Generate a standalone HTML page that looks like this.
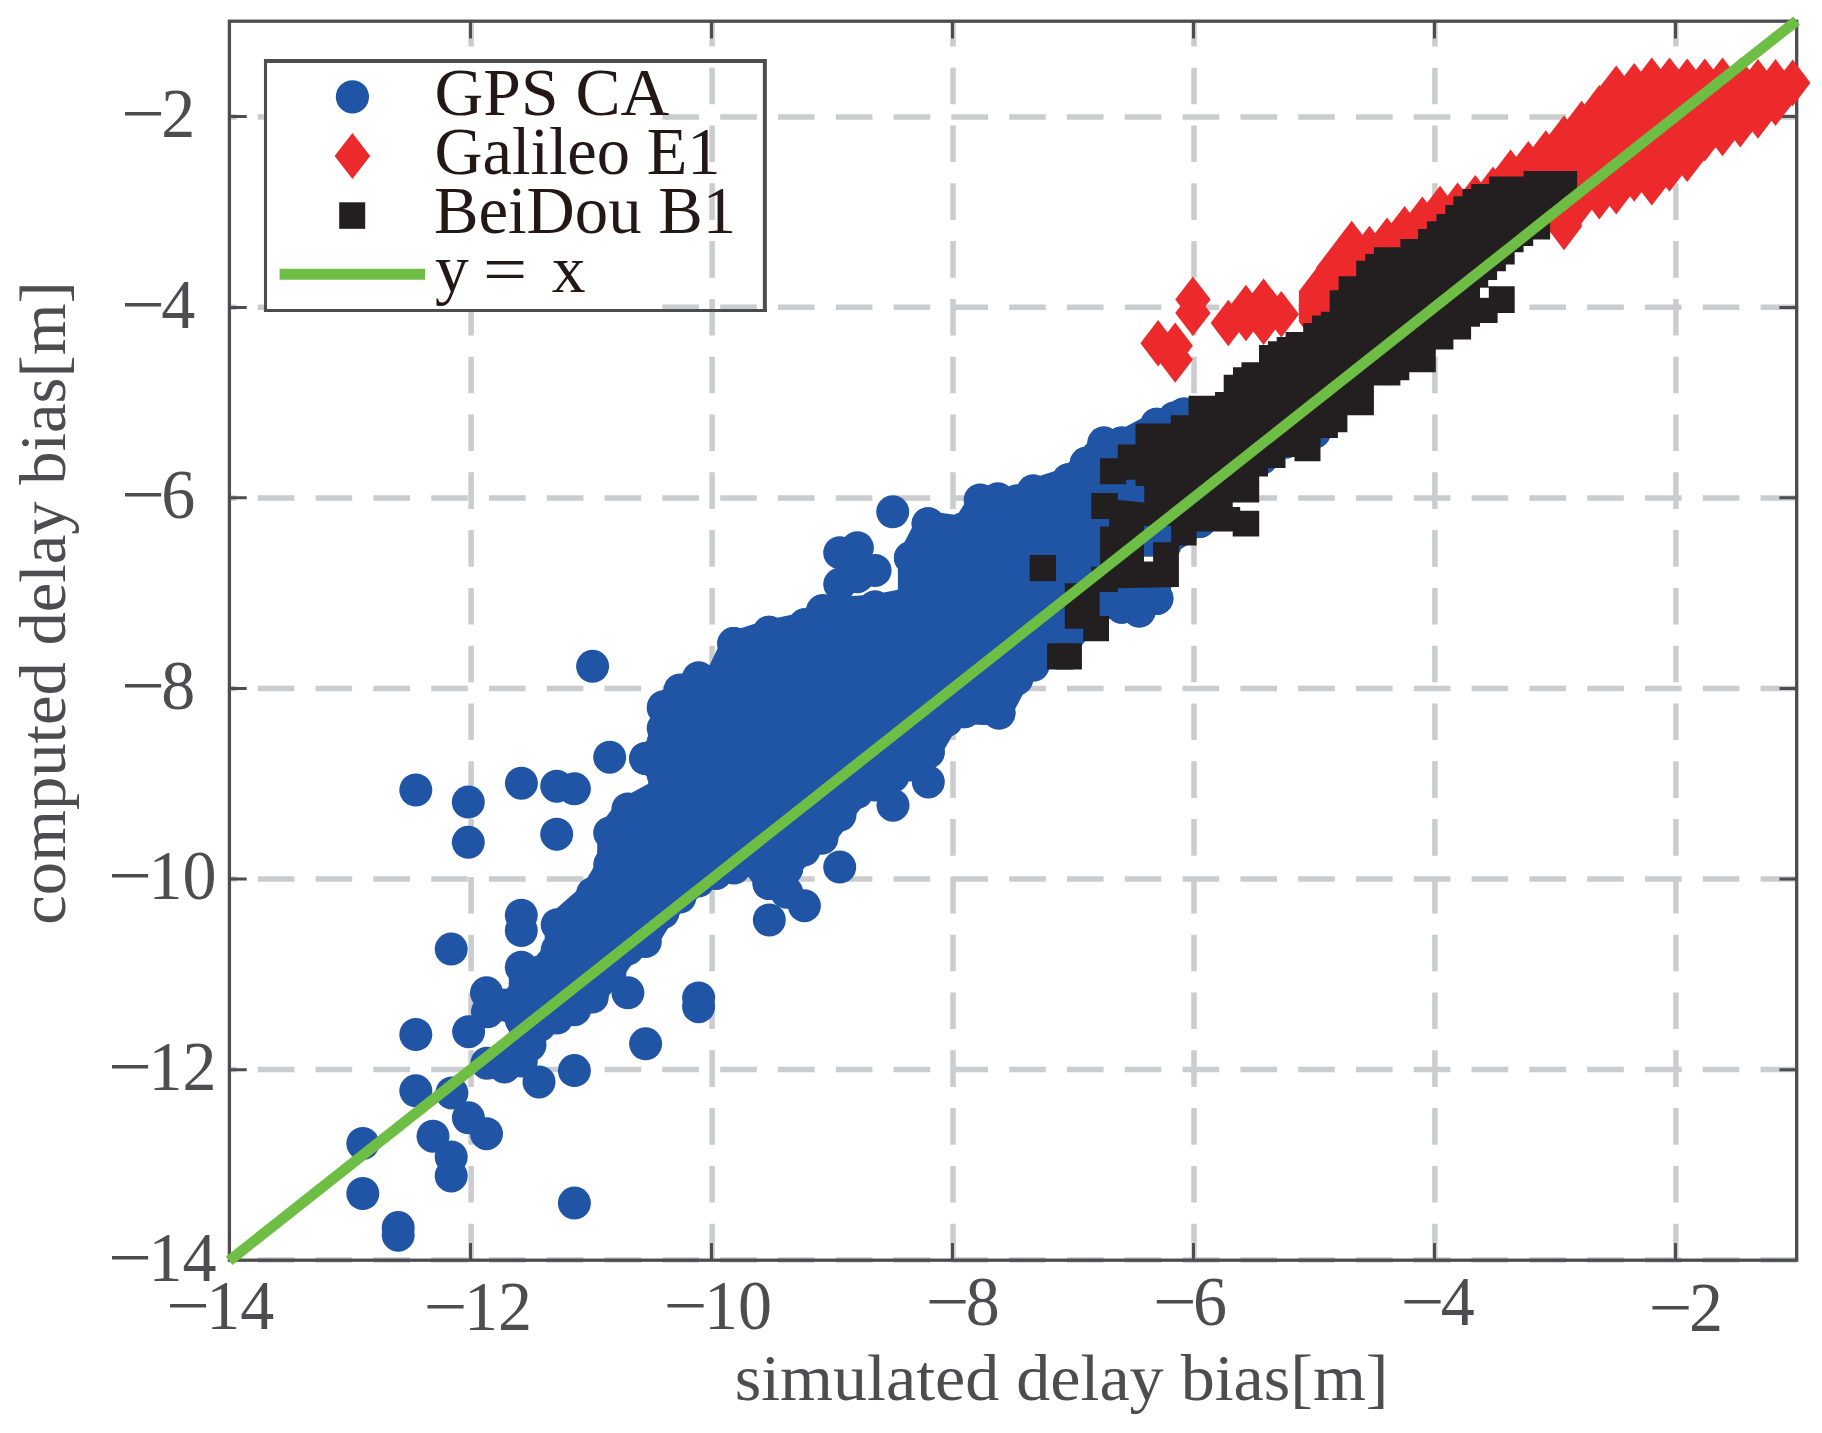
<!DOCTYPE html>
<html lang="en">
<head>
<meta charset="utf-8">
<title>simulated vs computed delay bias</title>
<style>html,body{margin:0;padding:0;background:#fff}body{width:1822px;height:1433px;overflow:hidden}svg{display:block}</style>
</head>
<body>
<svg width="1822" height="1433" viewBox="0 0 1822 1433" role="img" aria-label="Scatter plot of simulated versus computed delay bias">
<rect width="1822" height="1433" fill="#fff"/>
<g stroke="#cbcccd" stroke-width="5.5" fill="none" stroke-dasharray="36.6 21.2">
<path d="M471.1 9.9V1260.2"/>
<path d="M712.1 9.9V1260.2"/>
<path d="M953 9.9V1260.2"/>
<path d="M1194 9.9V1260.2"/>
<path d="M1434.9 9.9V1260.2"/>
<path d="M1675.9 9.9V1260.2"/>
<path d="M200 1259.9H1796.7"/>
<path d="M200 1069.5H1796.7"/>
<path d="M200 879H1796.7"/>
<path d="M200 688.5H1796.7"/>
<path d="M200 498H1796.7"/>
<path d="M200 307.2H1796.7"/>
<path d="M200 117.1H1796.7"/>
</g>
<rect x="0" y="0" width="229.4" height="1433" fill="#fff"/>
<rect x="0" y="0" width="1822" height="21.2" fill="#fff"/>
<rect x="1796.7" y="0" width="40" height="1433" fill="#fff"/>
<rect x="229.4" y="21.2" width="1567.3" height="1239" fill="none" stroke="#4d4d4f" stroke-width="3.3"/>
<path d="M470.5 1260.2v-17.3M470.5 21.2v17.3M711.5 1260.2v-17.3M711.5 21.2v17.3M952.5 1260.2v-17.3M952.5 21.2v17.3M1193.5 1260.2v-17.3M1193.5 21.2v17.3M1434.5 1260.2v-17.3M1434.5 21.2v17.3M1675.5 1260.2v-17.3M1675.5 21.2v17.3M229.4 1069.8h17.3M1796.7 1069.8h-17.3M229.4 879.1h17.3M1796.7 879.1h-17.3M229.4 688.4h17.3M1796.7 688.4h-17.3M229.4 497.8h17.3M1796.7 497.8h-17.3M229.4 307.4h17.3M1796.7 307.4h-17.3M229.4 116.5h17.3M1796.7 116.5h-17.3" stroke="#4d4d4f" stroke-width="3" fill="none"/>
<g fill="#2054a5" stroke="#2054a5" stroke-width="25" stroke-linejoin="round" stroke-linecap="round">
<polygon points="504.5,1066.9 521.3,1048.5 521.3,1020 504,1005 521.3,997 521.3,967.2 539.5,972 557.2,950 557.2,924.7 592.6,893.5 609.7,864.5 609.7,832.9 627.9,809 663.2,790 663.2,775 645.6,758.5 663.2,742 663.2,728.2 663.2,708 680,690 698.6,677.7 716.3,680.2 733.7,643.6 769,632.3 804.9,624.7 822.6,610.8 839.7,609.5 875.1,607 910.4,600 910.4,557.8 928.1,523.7 963.4,528.7 981.1,501 998.8,501 1017,501 1033.2,491.1 1068.6,479.7 1086.2,463.3 1103.9,443.1 1121.6,443.1 1156.9,424.2 1174.6,417.9 1184,414 1250,420 1314.5,432 1285.7,442 1262,458 1236,474 1215,490 1199.8,521.4 1165,545 1156.9,598.4 1139.2,611 1121.6,607.2 1100,605 1071,632.5 1033.2,665.3 1016.7,678.9 999,713 964.2,711.8 946.5,720.6 928.3,752.2 910,765 893,776.1 875,785 856.9,792.5 840,815 822,838.1 804,850 786.7,868.4 769,883.5 751.9,860.8 734,868 716,873.4 698.3,881 680,897 663,912.5 645.3,941.6 627.7,949.1 610,973 592.3,997.1 574.6,1009.7 557,1018 539.5,1025.6 530,1045"/>
</g>
<g fill="#2054a5">
<circle cx="362.8" cy="1143.5" r="16.5"/>
<circle cx="362.8" cy="1193.5" r="16.5"/>
<circle cx="398.2" cy="1227.6" r="16.5"/>
<circle cx="398.2" cy="1235.2" r="16.5"/>
<circle cx="415.8" cy="1034.5" r="16.5"/>
<circle cx="415.8" cy="1090.8" r="16.5"/>
<circle cx="451.9" cy="1093" r="16.5"/>
<circle cx="468.4" cy="1117.8" r="16.5"/>
<circle cx="486.5" cy="1133.7" r="16.5"/>
<circle cx="433" cy="1136.2" r="16.5"/>
<circle cx="451.2" cy="1156.9" r="16.5"/>
<circle cx="451.2" cy="1175.9" r="16.5"/>
<circle cx="574.4" cy="1203.1" r="16.5"/>
<circle cx="574.4" cy="1070.6" r="16.5"/>
<circle cx="539" cy="1081.9" r="16.5"/>
<circle cx="645.6" cy="1043.8" r="16.5"/>
<circle cx="698.6" cy="997.9" r="16.5"/>
<circle cx="698.6" cy="1006.7" r="16.5"/>
<circle cx="627.9" cy="992.8" r="16.5"/>
<circle cx="486.5" cy="992.8" r="16.5"/>
<circle cx="487.5" cy="1011.8" r="16.5"/>
<circle cx="468.6" cy="1031.7" r="16.5"/>
<circle cx="486.9" cy="1063.2" r="16.5"/>
<circle cx="521.3" cy="915.2" r="16.5"/>
<circle cx="521.3" cy="930.6" r="16.5"/>
<circle cx="521.3" cy="1061" r="16.5"/>
<circle cx="592.6" cy="666.3" r="16.5"/>
<circle cx="415.8" cy="790" r="16.5"/>
<circle cx="468.3" cy="802.1" r="16.5"/>
<circle cx="468.3" cy="842.3" r="16.5"/>
<circle cx="521.4" cy="783.2" r="16.5"/>
<circle cx="556.7" cy="786.2" r="16.5"/>
<circle cx="574.4" cy="788.8" r="16.5"/>
<circle cx="556.7" cy="834.2" r="16.5"/>
<circle cx="609.7" cy="757.2" r="16.5"/>
<circle cx="645.6" cy="758.5" r="16.5"/>
<circle cx="451.2" cy="949.1" r="16.5"/>
<circle cx="769.3" cy="920" r="16.5"/>
<circle cx="804.4" cy="905.7" r="16.5"/>
<circle cx="769" cy="883.5" r="16.5"/>
<circle cx="786.7" cy="868.4" r="16.5"/>
<circle cx="839.7" cy="867.1" r="16.5"/>
<circle cx="821.6" cy="838" r="16.5"/>
<circle cx="822" cy="815.3" r="16.5"/>
<circle cx="893" cy="805.2" r="16.5"/>
<circle cx="928.3" cy="781.9" r="16.5"/>
<circle cx="928.3" cy="752.2" r="16.5"/>
<circle cx="999" cy="713" r="16.5"/>
<circle cx="964.2" cy="711.8" r="16.5"/>
<circle cx="1016.7" cy="678.9" r="16.5"/>
<circle cx="769" cy="853.2" r="16.5"/>
<circle cx="786.7" cy="892.3" r="16.5"/>
<circle cx="892.7" cy="511.8" r="16.5"/>
<circle cx="839.7" cy="552.7" r="16.5"/>
<circle cx="857.4" cy="547.7" r="16.5"/>
<circle cx="875.1" cy="570.4" r="16.5"/>
<circle cx="839.7" cy="584.3" r="16.5"/>
<circle cx="857.4" cy="576.7" r="16.5"/>
<circle cx="875.1" cy="607" r="16.5"/>
<circle cx="822.6" cy="610.8" r="16.5"/>
<circle cx="839.7" cy="609.5" r="16.5"/>
<circle cx="804.9" cy="624.7" r="16.5"/>
<circle cx="769" cy="632.3" r="16.5"/>
<circle cx="733.7" cy="643.6" r="16.5"/>
<circle cx="698.3" cy="679" r="16.5"/>
<circle cx="716" cy="681.5" r="16.5"/>
<circle cx="663.5" cy="706.7" r="16.5"/>
<circle cx="928.1" cy="523.7" r="16.5"/>
<circle cx="910.4" cy="557.8" r="16.5"/>
<circle cx="981.1" cy="501" r="16.5"/>
<circle cx="998.8" cy="501" r="16.5"/>
<circle cx="963.4" cy="528.7" r="16.5"/>
<circle cx="1017" cy="501" r="16.5"/>
<circle cx="1103.9" cy="443.1" r="16.5"/>
<circle cx="1121.6" cy="443.1" r="16.5"/>
<circle cx="1086.2" cy="463.3" r="16.5"/>
<circle cx="1068.6" cy="479.7" r="16.5"/>
<circle cx="1033.2" cy="491.1" r="16.5"/>
<circle cx="997.9" cy="498.7" r="16.5"/>
<circle cx="980.2" cy="499.9" r="16.5"/>
<circle cx="1156.9" cy="424.2" r="16.5"/>
<circle cx="1174.6" cy="417.9" r="16.5"/>
<circle cx="1184" cy="414" r="16.5"/>
<circle cx="1156.9" cy="598.4" r="16.5"/>
<circle cx="1139.2" cy="611" r="16.5"/>
<circle cx="1121.6" cy="607.2" r="16.5"/>
<circle cx="1199.8" cy="521.4" r="16.5"/>
<circle cx="1285.7" cy="442" r="16.5"/>
<circle cx="1314.5" cy="432" r="16.5"/>
<circle cx="1154.4" cy="541.6" r="16.5"/>
<circle cx="504.5" cy="1066.9" r="16.5"/>
<circle cx="521.3" cy="1048.5" r="16.5"/>
<circle cx="521.3" cy="1020" r="16.5"/>
<circle cx="504" cy="1005" r="16.5"/>
<circle cx="521.3" cy="997" r="16.5"/>
<circle cx="521.3" cy="967.2" r="16.5"/>
<circle cx="539.5" cy="972" r="16.5"/>
<circle cx="557.2" cy="950" r="16.5"/>
<circle cx="557.2" cy="924.7" r="16.5"/>
<circle cx="592.6" cy="893.5" r="16.5"/>
<circle cx="609.7" cy="864.5" r="16.5"/>
<circle cx="609.7" cy="832.9" r="16.5"/>
<circle cx="627.9" cy="809" r="16.5"/>
<circle cx="663.2" cy="790" r="16.5"/>
<circle cx="663.2" cy="775" r="16.5"/>
<circle cx="645.6" cy="758.5" r="16.5"/>
<circle cx="663.2" cy="742" r="16.5"/>
<circle cx="663.2" cy="728.2" r="16.5"/>
<circle cx="663.2" cy="708" r="16.5"/>
<circle cx="680" cy="690" r="16.5"/>
<circle cx="698.6" cy="677.7" r="16.5"/>
<circle cx="716.3" cy="680.2" r="16.5"/>
<circle cx="733.7" cy="643.6" r="16.5"/>
<circle cx="769" cy="632.3" r="16.5"/>
<circle cx="804.9" cy="624.7" r="16.5"/>
<circle cx="822.6" cy="610.8" r="16.5"/>
<circle cx="839.7" cy="609.5" r="16.5"/>
<circle cx="875.1" cy="607" r="16.5"/>
<circle cx="910.4" cy="600" r="16.5"/>
<circle cx="910.4" cy="557.8" r="16.5"/>
<circle cx="928.1" cy="523.7" r="16.5"/>
<circle cx="963.4" cy="528.7" r="16.5"/>
<circle cx="981.1" cy="501" r="16.5"/>
<circle cx="998.8" cy="501" r="16.5"/>
<circle cx="1017" cy="501" r="16.5"/>
<circle cx="1033.2" cy="491.1" r="16.5"/>
<circle cx="1068.6" cy="479.7" r="16.5"/>
<circle cx="1086.2" cy="463.3" r="16.5"/>
<circle cx="1103.9" cy="443.1" r="16.5"/>
<circle cx="1121.6" cy="443.1" r="16.5"/>
<circle cx="1156.9" cy="424.2" r="16.5"/>
<circle cx="1174.6" cy="417.9" r="16.5"/>
<circle cx="1184" cy="414" r="16.5"/>
<circle cx="1250" cy="420" r="16.5"/>
<circle cx="1314.5" cy="432" r="16.5"/>
<circle cx="1285.7" cy="442" r="16.5"/>
<circle cx="1262" cy="458" r="16.5"/>
<circle cx="1236" cy="474" r="16.5"/>
<circle cx="1215" cy="490" r="16.5"/>
<circle cx="1199.8" cy="521.4" r="16.5"/>
<circle cx="1165" cy="545" r="16.5"/>
<circle cx="1156.9" cy="598.4" r="16.5"/>
<circle cx="1139.2" cy="611" r="16.5"/>
<circle cx="1121.6" cy="607.2" r="16.5"/>
<circle cx="1100" cy="605" r="16.5"/>
<circle cx="1071" cy="632.5" r="16.5"/>
<circle cx="1033.2" cy="665.3" r="16.5"/>
<circle cx="1016.7" cy="678.9" r="16.5"/>
<circle cx="999" cy="713" r="16.5"/>
<circle cx="964.2" cy="711.8" r="16.5"/>
<circle cx="946.5" cy="720.6" r="16.5"/>
<circle cx="928.3" cy="752.2" r="16.5"/>
<circle cx="910" cy="765" r="16.5"/>
<circle cx="893" cy="776.1" r="16.5"/>
<circle cx="875" cy="785" r="16.5"/>
<circle cx="856.9" cy="792.5" r="16.5"/>
<circle cx="840" cy="815" r="16.5"/>
<circle cx="822" cy="838.1" r="16.5"/>
<circle cx="804" cy="850" r="16.5"/>
<circle cx="786.7" cy="868.4" r="16.5"/>
<circle cx="769" cy="883.5" r="16.5"/>
<circle cx="751.9" cy="860.8" r="16.5"/>
<circle cx="734" cy="868" r="16.5"/>
<circle cx="716" cy="873.4" r="16.5"/>
<circle cx="698.3" cy="881" r="16.5"/>
<circle cx="680" cy="897" r="16.5"/>
<circle cx="663" cy="912.5" r="16.5"/>
<circle cx="645.3" cy="941.6" r="16.5"/>
<circle cx="627.7" cy="949.1" r="16.5"/>
<circle cx="610" cy="973" r="16.5"/>
<circle cx="592.3" cy="997.1" r="16.5"/>
<circle cx="574.6" cy="1009.7" r="16.5"/>
<circle cx="557" cy="1018" r="16.5"/>
<circle cx="539.5" cy="1025.6" r="16.5"/>
<circle cx="530" cy="1045" r="16.5"/>
</g>
<clipPath id="rc"><rect x="0" y="0" width="1810" height="1433"/></clipPath>
<g fill="#ec2a2b" clip-path="url(#rc)">
<polygon points="1316.6,268 1334.3,291.2 1334.3,321.8 1316.6,345 1298.9,321.8 1298.9,291.2"/>
<polygon points="1334,244 1351.7,267.2 1351.7,316.8 1334,340 1316.3,316.8 1316.3,267.2"/>
<polygon points="1351.7,220.8 1369.4,244 1369.4,306.8 1351.7,330 1334,306.8 1334,244"/>
<polygon points="1369.4,225.8 1387.1,249 1387.1,296.8 1369.4,320 1351.7,296.8 1351.7,249"/>
<polygon points="1387,217.6 1404.7,240.8 1404.7,286.8 1387,310 1369.3,286.8 1369.3,240.8"/>
<polygon points="1404.6,205.9 1422.3,229.1 1422.3,276.8 1404.6,300 1386.9,276.8 1386.9,229.1"/>
<polygon points="1422.3,196.5 1440,219.7 1440,266.8 1422.3,290 1404.6,266.8 1404.6,219.7"/>
<polygon points="1440,185.7 1457.7,208.9 1457.7,256.8 1440,280 1422.3,256.8 1422.3,208.9"/>
<polygon points="1457.6,182.6 1475.3,205.8 1475.3,246.8 1457.6,270 1439.9,246.8 1439.9,205.8"/>
<polygon points="1475.3,174.9 1493,198.1 1493,236.8 1475.3,260 1457.6,236.8 1457.6,198.1"/>
<polygon points="1493,166.5 1510.7,189.7 1510.7,226.8 1493,250 1475.3,226.8 1475.3,189.7"/>
<polygon points="1510.6,149.5 1528.3,172.7 1528.3,221.8 1510.6,245 1492.9,221.8 1492.9,172.7"/>
<polygon points="1528.3,141 1546,164.2 1546,216.8 1528.3,240 1510.6,216.8 1510.6,164.2"/>
<polygon points="1545.8,130.3 1563.5,153.5 1563.5,211.8 1545.8,235 1528.1,211.8 1528.1,153.5"/>
<polygon points="1564,115.4 1581.7,138.6 1581.7,227 1564,250.2 1546.3,227 1546.3,138.6"/>
<polygon points="1581.6,100.8 1599.3,124 1599.3,200 1581.6,223.2 1563.9,200 1563.9,124"/>
<polygon points="1599.3,85.1 1617,108.3 1617,196.2 1599.3,219.4 1581.6,196.2 1581.6,108.3"/>
<polygon points="1616.2,65.4 1633.9,88.6 1633.9,191.2 1616.2,214.4 1598.5,191.2 1598.5,88.6"/>
<polygon points="1634.2,62.9 1651.9,86.1 1651.9,178.6 1634.2,201.8 1616.5,178.6 1616.5,86.1"/>
<polygon points="1651.8,57.4 1669.5,80.6 1669.5,182.4 1651.8,205.6 1634.1,182.4 1634.1,80.6"/>
<polygon points="1669.5,57.4 1687.2,80.6 1687.2,168.5 1669.5,191.7 1651.8,168.5 1651.8,80.6"/>
<polygon points="1687.2,58.4 1704.9,81.6 1704.9,158.9 1687.2,182.1 1669.5,158.9 1669.5,81.6"/>
<polygon points="1704.8,58.4 1722.5,81.6 1722.5,138.2 1704.8,161.4 1687.1,138.2 1687.1,81.6"/>
<polygon points="1722.5,57.4 1740.2,80.6 1740.2,133.1 1722.5,156.3 1704.8,133.1 1704.8,80.6"/>
<polygon points="1740.2,57.9 1757.9,81.1 1757.9,124.3 1740.2,147.5 1722.5,124.3 1722.5,81.1"/>
<polygon points="1757.9,59.1 1775.6,82.3 1775.6,115.5 1757.9,138.7 1740.2,115.5 1740.2,82.3"/>
<polygon points="1775.5,59.1 1793.2,82.3 1793.2,102.8 1775.5,126 1757.8,102.8 1757.8,82.3"/>
<polygon points="1792.7,59.6 1810.4,82.8 1810.4,83.1 1792.7,106.3 1775,83.1 1775,82.8"/>
<path d="M1158.1 320l17.7 23.2l-17.7 23.2l-17.7 -23.2zM1175.2 322.6l17.7 23.2l-17.7 23.2l-17.7 -23.2zM1175.2 336.4l17.7 23.2l-17.7 23.2l-17.7 -23.2zM1192.9 276.4l17.7 23.2l-17.7 23.2l-17.7 -23.2zM1192.9 289.7l17.7 23.2l-17.7 23.2l-17.7 -23.2zM1228.3 299.8l17.7 23.2l-17.7 23.2l-17.7 -23.2zM1245.9 284.7l17.7 23.2l-17.7 23.2l-17.7 -23.2zM1263.6 278.4l17.7 23.2l-17.7 23.2l-17.7 -23.2zM1263.6 298.6l17.7 23.2l-17.7 23.2l-17.7 -23.2zM1281.3 291l17.7 23.2l-17.7 23.2l-17.7 -23.2zM1263.6 288.8l17.7 23.2l-17.7 23.2l-17.7 -23.2zM1245.9 294.8l17.7 23.2l-17.7 23.2l-17.7 -23.2zM1316.6 297.3l17.7 23.2l-17.7 23.2l-17.7 -23.2z"/>
</g>
<g fill="#231f20">
<polygon points="1064.8,583.2 1091.3,583.2 1091.3,566.8 1100.1,566.8 1100.1,526.4 1109,526.4 1109,518.9 1091.3,518.9 1091.3,493.1 1117.8,493.1 1117.8,499.9 1144.3,502.4 1144.3,486 1135.5,486 1135.5,479.7 1126.1,479.7 1126.1,484.3 1100.1,484.3 1100.1,458.3 1117.8,458.3 1117.8,444.4 1135.5,444.4 1135.5,444.4 1135.5,423.4 1170.8,423.4 1170.8,415.3 1188.5,415.3 1188.5,395.7 1215,395.7 1215,392.1 1223.7,392.1 1223.7,374.8 1233,374.8 1233,367.2 1241.4,367.2 1241.4,362.2 1259,362.2 1259,345 1267.9,345 1267.9,341.2 1276.7,341.2 1276.7,336.9 1285.6,336.9 1285.6,331.9 1303.2,331.9 1303.2,323 1312.1,323 1312.1,315.5 1320.9,315.5 1320.9,311.7 1329.7,311.7 1329.7,290.2 1338.6,290.2 1338.6,276.3 1356.2,276.3 1356.2,260.7 1365.1,260.7 1365.1,254.1 1373.9,254.1 1373.9,247.3 1400.4,247.3 1400.4,239 1418.1,239 1418.1,228.9 1426.9,228.9 1426.9,221.3 1436.5,221.3 1436.5,213.9 1445.3,213.9 1445.3,205.1 1453.4,205.1 1453.4,196.2 1462.5,196.2 1462.5,189.1 1471.1,189.1 1471.1,184.1 1489,184.1 1489,176.5 1523.6,176.5 1523.6,171 1577.1,171 1577.1,197.2 1564,197.2 1564,212 1550.1,212 1550.1,239.6 1533.2,239.6 1533.2,246 1523.6,246 1523.6,252.3 1514.7,252.3 1514.7,264.4 1505.9,264.4 1505.9,271.2 1497.1,271.2 1497.1,280 1488.2,280 1488.2,286.3 1514.7,286.3 1514.7,312.9 1497.6,312.9 1497.6,323 1480,323 1480,326.8 1471.1,326.8 1471.1,339.4 1453.4,339.4 1453.4,349.5 1435.8,349.5 1435.8,372.3 1409.3,372.3 1409.3,380.3 1400.4,380.3 1400.4,385.4 1373.9,385.4 1373.9,415.2 1347.4,415.2 1347.4,432.3 1337.9,432.3 1337.9,438.1 1320.5,438.1 1320.5,461.3 1294.5,461.3 1294.5,457 1285.5,457 1285.5,467.9 1268,467.9 1268,476.4 1259.2,476.4 1259.2,502.4 1232.7,502.4 1232.7,507 1240.2,507 1240.2,510.8 1259.2,510.8 1259.2,536.5 1232.7,536.5 1232.7,531.5 1196.6,531.5 1196.6,545.4 1178.9,545.4 1178.9,587 1117.8,588.3 1117.8,592 1099.6,592 1099.6,616 1109,616 1109,641.3 1083.2,641.3 1083.2,628.7 1064.8,628.7"/>
<rect x="1029.7" y="555" width="26.2" height="26.2"/>
<rect x="1047.1" y="643.3" width="26.2" height="26.2"/>
<rect x="1055.7" y="643.3" width="26.2" height="26.2"/>
</g>
<rect x="1480" y="287.7" width="8.8" height="10.1" fill="#fff"/>
<path d="M1144 526h27.2v16.2h-18.1v14.4h-9.1z" fill="#2054a5"/>
<path d="M1144 556.6h9.1v4.9h-9.1z" fill="#fff"/>
<path d="M229.2 1260.7L1796.6 20.8" stroke="#6ebd45" stroke-width="10.7" fill="none"/>
<rect x="265.5" y="61" width="396.6" height="249.4" fill="#fff"/>
<path d="M265.5 59.05V312M263.95 310.45H766.87" fill="none" stroke="#4d4d4f" stroke-width="3.05"/>
<path d="M263.95 61H766.87M764.86 59.05V312" fill="none" stroke="#4d4d4f" stroke-width="3.95"/>
<circle cx="352.4" cy="96.8" r="16.6" fill="#2054a5"/>
<path d="M352.4 133l17.8 23-17.8 23-17.8-23z" fill="#ec2a2b"/>
<rect x="339.2" y="202.3" width="26" height="26.5" fill="#231f20"/>
<path d="M279.6 274.3H425" stroke="#6ebd45" stroke-width="11" fill="none"/>
<g font-family='"Liberation Serif", "DejaVu Serif", serif' font-size="67.5" fill="#231815">
<text x="434.5" y="114.8" textLength="234.8" lengthAdjust="spacingAndGlyphs">GPS CA</text>
<text x="434.5" y="173.8" textLength="286" lengthAdjust="spacingAndGlyphs">Galileo E1</text>
<text x="434" y="232.7" textLength="302" lengthAdjust="spacingAndGlyphs">BeiDou B1</text>
<text y="292.4"><tspan x="435.1">y</tspan> <tspan x="482.9" textLength="44.2" lengthAdjust="spacingAndGlyphs">=</tspan> <tspan x="551.7">x</tspan></text>
</g>
<g font-family='"Liberation Serif", "DejaVu Serif", serif' font-size="69.5" fill="#4d4d4f">
<text y="1329.3"><tspan x="165.9" textLength="43.8" lengthAdjust="spacingAndGlyphs">−</tspan><tspan x="206.2" textLength="68" lengthAdjust="spacingAndGlyphs">14</tspan></text>
<text y="1330.1"><tspan x="423.6" textLength="43.8" lengthAdjust="spacingAndGlyphs">−</tspan><tspan x="463.9" textLength="68" lengthAdjust="spacingAndGlyphs">12</tspan></text>
<text y="1329.2"><tspan x="663.6" textLength="43.8" lengthAdjust="spacingAndGlyphs">−</tspan><tspan x="703.9" textLength="68" lengthAdjust="spacingAndGlyphs">10</tspan></text>
<text y="1325.2"><tspan x="925.4" textLength="43.8" lengthAdjust="spacingAndGlyphs">−</tspan><tspan x="965.7" textLength="34" lengthAdjust="spacingAndGlyphs">8</tspan></text>
<text y="1324.8"><tspan x="1152.7" textLength="43.8" lengthAdjust="spacingAndGlyphs">−</tspan><tspan x="1193" textLength="34" lengthAdjust="spacingAndGlyphs">6</tspan></text>
<text y="1325.2"><tspan x="1400.4" textLength="43.8" lengthAdjust="spacingAndGlyphs">−</tspan><tspan x="1440.7" textLength="34" lengthAdjust="spacingAndGlyphs">4</tspan></text>
<text y="1330.5"><tspan x="1648.6" textLength="43.8" lengthAdjust="spacingAndGlyphs">−</tspan><tspan x="1688.9" textLength="34" lengthAdjust="spacingAndGlyphs">2</tspan></text>
<text y="1280.5"><tspan x="108.1" textLength="43.8" lengthAdjust="spacingAndGlyphs">−</tspan><tspan x="148.4" textLength="68" lengthAdjust="spacingAndGlyphs">14</tspan></text>
<text y="1089.9"><tspan x="108.1" textLength="43.8" lengthAdjust="spacingAndGlyphs">−</tspan><tspan x="148.4" textLength="68" lengthAdjust="spacingAndGlyphs">12</tspan></text>
<text y="899.2"><tspan x="108.1" textLength="43.8" lengthAdjust="spacingAndGlyphs">−</tspan><tspan x="148.4" textLength="68" lengthAdjust="spacingAndGlyphs">10</tspan></text>
<text y="708.5"><tspan x="121" textLength="43.8" lengthAdjust="spacingAndGlyphs">−</tspan><tspan x="161.2" textLength="34" lengthAdjust="spacingAndGlyphs">8</tspan></text>
<text y="517.9"><tspan x="121" textLength="43.8" lengthAdjust="spacingAndGlyphs">−</tspan><tspan x="161.2" textLength="34" lengthAdjust="spacingAndGlyphs">6</tspan></text>
<text y="327.5"><tspan x="121" textLength="43.8" lengthAdjust="spacingAndGlyphs">−</tspan><tspan x="161.2" textLength="34" lengthAdjust="spacingAndGlyphs">4</tspan></text>
<text y="136.6"><tspan x="121" textLength="43.8" lengthAdjust="spacingAndGlyphs">−</tspan><tspan x="161.2" textLength="34" lengthAdjust="spacingAndGlyphs">2</tspan></text>
</g>
<g font-family='"Liberation Serif", "DejaVu Serif", serif' font-size="66.5" fill="#4d4d4f">
<text x="734.7" y="1399.5" textLength="653.8" lengthAdjust="spacingAndGlyphs">simulated delay bias[m]</text>
<text transform="translate(64.5 924.7) rotate(-90)" textLength="643.3" lengthAdjust="spacingAndGlyphs">computed delay bias[m]</text>
</g>
</svg>
</body>
</html>
